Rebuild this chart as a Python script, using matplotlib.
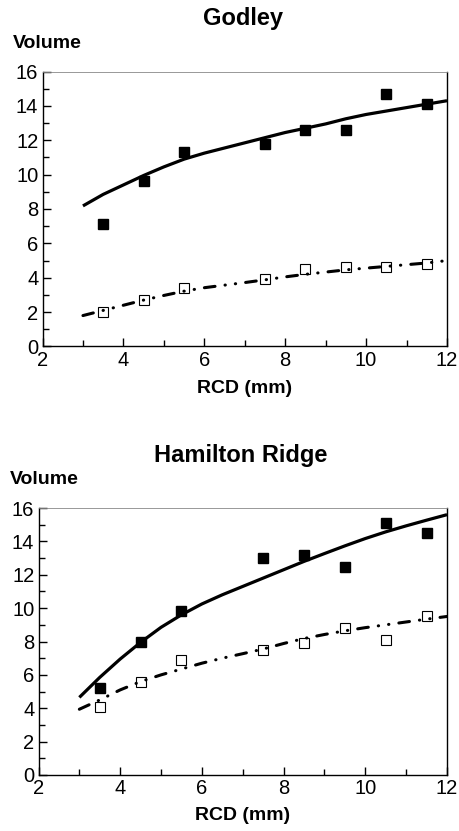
import matplotlib
matplotlib.use('Agg')
import matplotlib.pyplot as plt
from matplotlib.ticker import MultipleLocator

plt.rcParams['font.family'] = ['Liberation Sans', 'DejaVu Sans']

rcd = [3.5, 4.5, 5.5, 7.5, 8.5, 9.5, 10.5, 11.5]
curve_x = [3, 3.5, 4, 4.5, 5, 5.5, 6, 6.5, 7, 7.5, 8, 8.5, 9, 9.5, 10, 10.5, 11, 11.5, 12]

godley_filled = [7.1, 9.6, 11.3, 11.8, 12.6, 12.6, 14.7, 14.1]
godley_open = [2.0, 2.7, 3.4, 3.9, 4.5, 4.6, 4.6, 4.8]
godley_fit_filled = [8.18, 8.85, 9.4, 9.95, 10.45, 10.9, 11.25, 11.55, 11.85, 12.15,
                     12.45, 12.7, 12.95, 13.25, 13.5, 13.7, 13.9, 14.1, 14.3]
godley_fit_open = [1.8, 2.1, 2.4, 2.7, 2.97, 3.22, 3.42, 3.57, 3.72, 3.88,
                   4.05, 4.2, 4.33, 4.46, 4.56, 4.66, 4.76, 4.86, 5.0]

hamilton_filled = [5.2, 8.0, 9.85, 13.0, 13.2, 12.45, 15.1, 14.5]
hamilton_open = [4.1, 5.6, 6.9, 7.5, 7.9, 8.8, 8.1, 9.5]
hamilton_fit_filled = [4.65, 5.85, 6.95, 7.95, 8.85, 9.6, 10.25, 10.8, 11.3, 11.8,
                       12.3, 12.8, 13.27, 13.73, 14.17, 14.57, 14.93, 15.27, 15.6]
hamilton_fit_open = [3.94, 4.5, 5.1, 5.6, 6.0, 6.35, 6.7, 7.0, 7.27, 7.55,
                     7.88, 8.18, 8.42, 8.64, 8.83, 9.0, 9.17, 9.34, 9.5]

panels = [
    ('Godley', godley_filled, godley_open, godley_fit_filled, godley_fit_open),
    ('Hamilton Ridge', hamilton_filled, hamilton_open, hamilton_fit_filled, hamilton_fit_open),
]

W, H = 459, 831
fig = plt.figure(figsize=(W / 100, H / 100), dpi=100)

# axes boxes in pixels: left, top, right, bottom
boxes = [(42.5, 71.5, 447, 346.5), (38.5, 508, 447, 775)]
title_pos = [(242.5, 18), (241, 455)]
vol_pos = [(12.5, 43), (10, 480)]
xlab_pos = [(245, 388), (243, 816)]

for (name, filled, opn, fit_f, fit_o), (l, t, r, b), tp, vp, xp in zip(
        panels, boxes, title_pos, vol_pos, xlab_pos):
    ax = fig.add_axes([l / W, 1 - b / H, (r - l) / W, (b - t) / H])
    ax.plot(curve_x, fit_f, '-', color='black', lw=2.3,
            solid_capstyle='butt', solid_joinstyle='round')
    ax.plot(curve_x, fit_o, color='black', lw=2.2, dash_capstyle='round',
            dashes=(3.5, 3.3, 0.1, 3.3, 0.1, 3.3))
    ax.plot(rcd, filled, 's', color='black', markersize=7)
    ax.plot(rcd, opn, 's', markerfacecolor='none', markeredgecolor='black',
            markeredgewidth=0.8, markersize=7)
    ax.set_xlim(2, 12)
    ax.set_ylim(0, 16)
    ax.xaxis.set_major_locator(MultipleLocator(2))
    ax.xaxis.set_minor_locator(MultipleLocator(1))
    ax.yaxis.set_major_locator(MultipleLocator(2))
    ax.yaxis.set_minor_locator(MultipleLocator(1))
    ax.tick_params(which='both', direction='in', labelsize=14.5, width=1, pad=3)
    ax.tick_params(which='major', length=6)
    ax.tick_params(which='minor', length=4)
    for s in ax.spines.values():
        s.set_linewidth(1.0)
    ax.spines['top'].set_color('#888888')
    ax.spines['top'].set_linewidth(0.6)
    fig.text(tp[0] / W, 1 - tp[1] / H, name, ha='center', va='center',
             fontsize=17, fontweight='bold')
    fig.text(vp[0] / W, 1 - vp[1] / H, 'Volume', ha='left', va='center',
             fontsize=14, fontweight='bold')
    fig.text(xp[0] / W, 1 - xp[1] / H, 'RCD (mm)', ha='center', va='center',
             fontsize=14, fontweight='bold')

plt.savefig('out.png', dpi=100)
plt.close()
